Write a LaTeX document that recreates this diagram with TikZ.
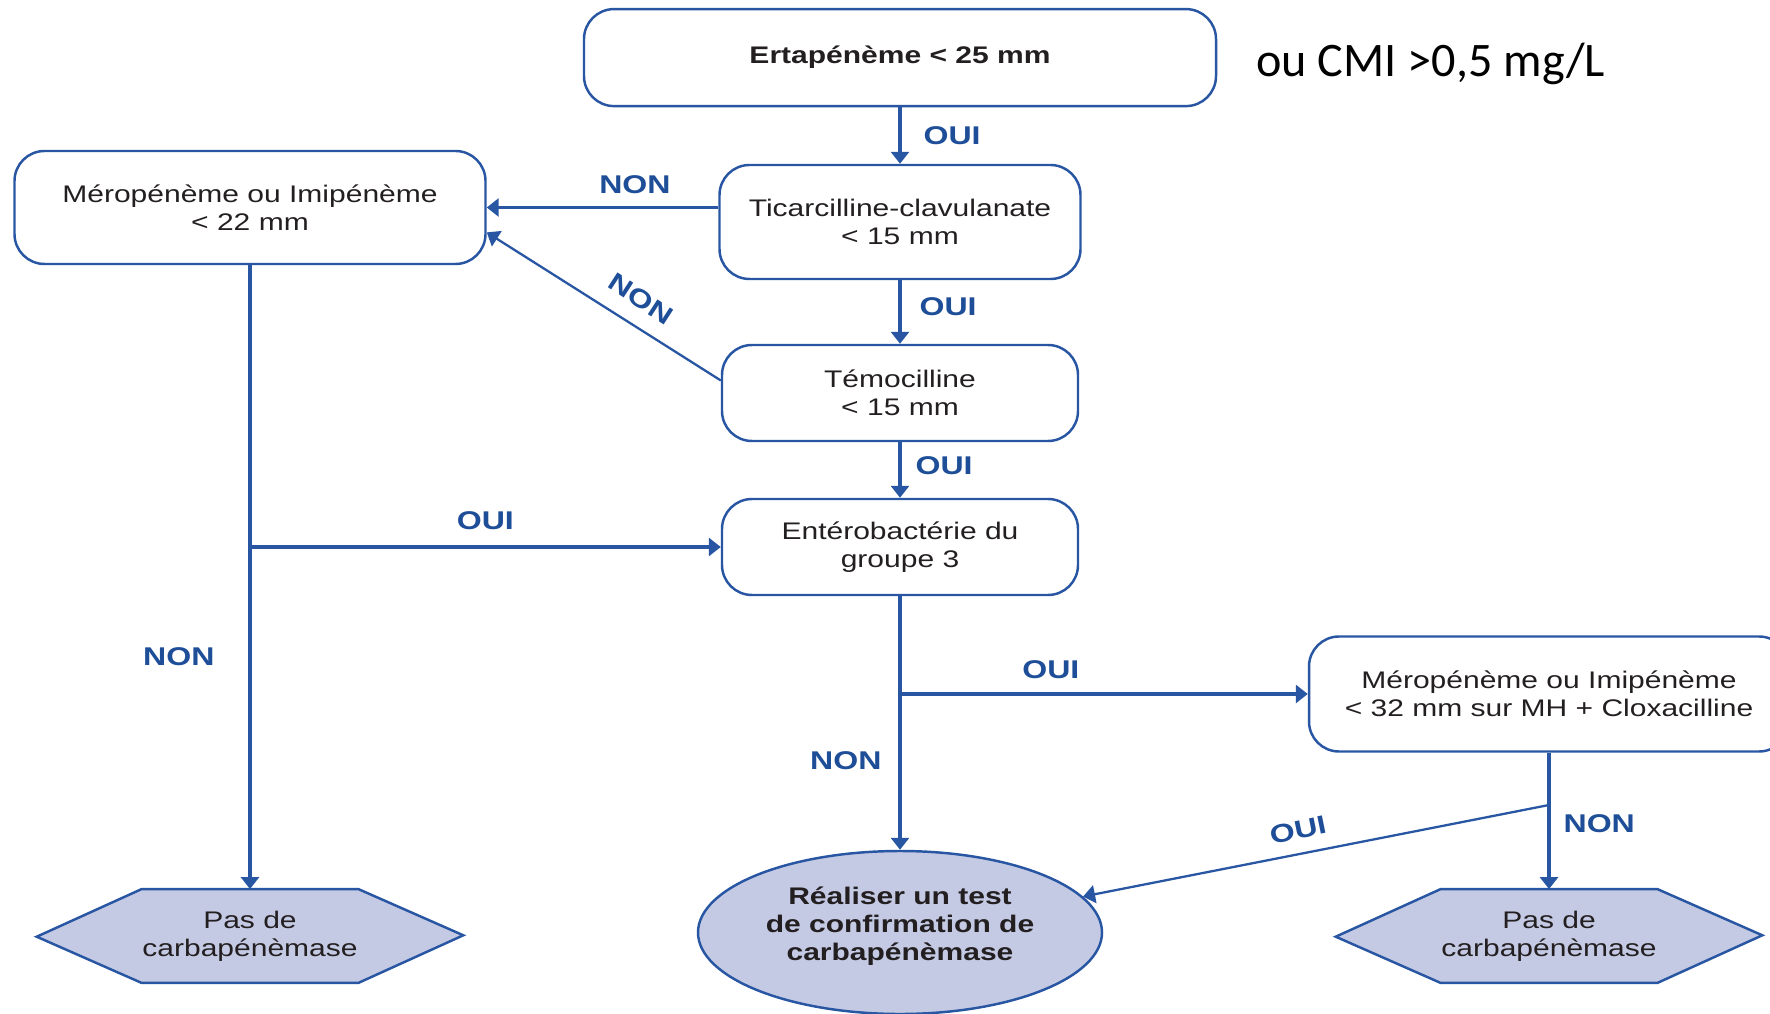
\documentclass[tikz,border=0pt]{standalone}
\usepackage{fontspec}
\setmainfont[FakeStretch=1.25]{Liberation Sans}
\newfontfamily\calibri{Carlito}
\usepackage{tikz}
\usetikzlibrary{arrows.meta, shapes.geometric, backgrounds}

\definecolor{ligne}{RGB}{40,86,162}
\definecolor{bleuetiq}{RGB}{30,78,152}
\definecolor{lavande}{RGB}{197,202,228}
\definecolor{encre}{RGB}{35,31,32}

\tikzset{
    boite/.style={draw=ligne, line width=0.7pt, rounded corners=0.3cm,
        align=center, inner sep=0pt, text=encre,
        font=\fontsize{6.83}{7.97}\selectfont},
    hexa/.style={align=center, inner sep=0pt, text=encre,
        minimum width=2.14cm, minimum height=0.925cm,
        font=\fontsize{6.83}{7.97}\selectfont},
    fleche/.style={draw=ligne, line width=0.9pt,
        -{Triangle[width=0.18cm, length=0.12cm]}},
    trait/.style={draw=ligne, line width=0.9pt},
    etiq/.style={text=bleuetiq, inner sep=0pt,
        font=\fontsize{7.3}{8.5}\selectfont\bfseries}
}

\begin{document}
\begin{tikzpicture}

	\useasboundingbox (0,0) rectangle (17.70,-10.14);

	% Boîtes de décision
	\node[boite, minimum width=6.32cm, minimum height=0.97cm] (ert) at (9.00,-0.576)
		{\bfseries Ertapénème < 25 mm};
	\node[anchor=base west, font=\calibri\fontsize{13.7}{16}\selectfont] (cmi) at (12.44,-0.77)
		{ou CMI >0,5 mg/L};
	\node[boite, minimum width=3.61cm, minimum height=1.14cm] (tic) at (9.00,-2.22)
		{Ticarcilline-clavulanate\\< 15 mm};
	\node[boite, minimum width=4.71cm, minimum height=1.13cm] (mero22) at (2.50,-2.075)
		{Méropénème ou Imipénème\\< 22 mm};
	\node[boite, minimum width=3.56cm, minimum height=0.96cm] (temo) at (9.00,-3.93)
		{Témocilline\\< 15 mm};
	\node[boite, minimum width=3.56cm, minimum height=0.96cm] (entero) at (9.00,-5.47)
		{Entérobactérie du\\groupe 3};
	\node[boite, minimum width=4.80cm, minimum height=1.15cm] (mero32) at (15.49,-6.94)
		{Méropénème ou Imipénème\\< 32 mm sur MH + Cloxacilline};

	% Conclusions
	\node[hexa] (hexg) at (2.50,-9.36) {Pas de\\carbapénèmase};
	\node[hexa] (hexd) at (15.49,-9.36) {Pas de\\carbapénèmase};
	\node[ellipse, draw=ligne, fill=lavande, line width=0.7pt, text=encre, align=center,
		inner sep=0pt, minimum width=4.04cm, minimum height=1.63cm, text depth=0.17cm,
		font=\fontsize{6.83}{7.97}\selectfont\bfseries] (test) at (9.00,-9.325)
		{Réaliser un test\\de confirmation de\\carbapénèmase};

	\begin{scope}[on background layer]
		\foreach \h in {hexg, hexd}
			\filldraw[fill=lavande, draw=ligne, line width=0.7pt]
				(\h.north west) -- (\h.north east) -- ++(1.05,-0.4625)
				-- (\h.south east) -- (\h.south west) -- ++(-1.05,0.4625) -- cycle;
	\end{scope}

	% Colonne centrale
	\draw[fleche] (ert) -- node[etiq, right=0.22cm] {OUI} (tic);
	\draw[fleche] (tic) -- node[etiq, right=0.18cm, pos=0.42] {OUI} (temo);
	\draw[fleche] (temo) -- node[etiq, right=0.14cm, pos=0.42] {OUI} (entero);

	% Retours vers Méropénème < 22 mm
	\draw[fleche] (tic.west |- mero22) -- node[etiq, above=0.12cm, pos=0.36] {NON} (mero22);
	\draw[fleche, line width=0.65pt] (temo.176) -- (mero22.354);
	\node[etiq, rotate=-33] (nondiag) at (6.41,-2.99) {NON};

	% Branche gauche
	\coordinate (brg) at (2.50,-5.47);
	\draw[trait] (mero22) -- (brg);
	\draw[fleche] (brg) -- node[etiq, above=0.16cm] {OUI} (entero);
	\draw[fleche] (brg) -- node[etiq, left=0.34cm, pos=0.32] {NON} (hexg);

	% Branche centrale
	\coordinate (brd) at (9.00,-6.94);
	\draw[trait] (entero) -- (brd);
	\draw[fleche] (brd) -- node[etiq, above=0.14cm, pos=0.37] {OUI} (mero32);
	\draw[fleche] (brd) -- node[etiq, left=0.17cm, pos=0.43] {NON} (test);

	% Branche droite
	\coordinate (brm) at (15.49,-8.05);
	\draw[trait] (mero32) -- (brm);
	\draw[fleche] (brm) -- node[etiq, right=0.13cm, pos=0.22] {NON} (hexd);
	\draw[fleche, line width=0.65pt] (brm) -- (test);
	\node[etiq, rotate=11.5] (ouidiag) at (12.98,-8.30) {OUI};

\end{tikzpicture}
\end{document}
